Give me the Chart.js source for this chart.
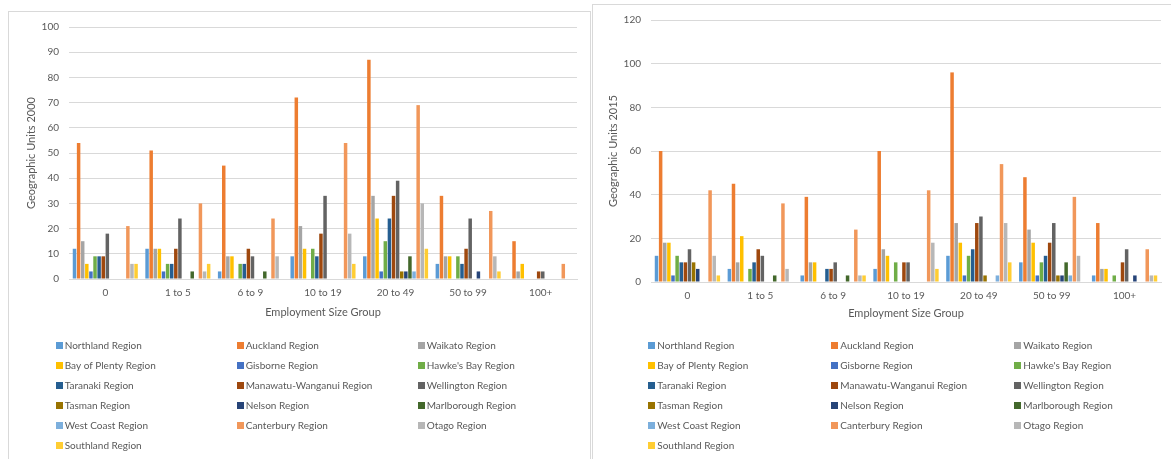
<!DOCTYPE html>
<html>
<head>
<meta charset="utf-8">
<script src="https://cdn.jsdelivr.net/npm/chart.js@4/dist/chart.umd.min.js"></script>
<style>
  html, body { margin: 0; padding: 0; background: #ffffff; }
  body { width: 1171px; height: 459px; position: relative; overflow: hidden; }
  .box { position: absolute; border: 1px solid #d9d9d9; box-sizing: border-box; }
  canvas { position: absolute; }
</style>
</head>
<body>
<div class="box" style="left:8px; top:11px; width:583px; height:460px;"></div>
<div class="box" style="left:592px; top:4px; width:590px; height:470px;"></div>
<canvas id="c2000" width="582" height="448" style="left:8px; top:11px;"></canvas>
<canvas id="c2015" width="579" height="455" style="left:592px; top:4px;"></canvas>
<script>
// Employment size groups (x axis)
const categories = ['0', '1 to 5', '6 to 9', '10 to 19', '20 to 49', '50 to 99', '100+'];

// Regions and their series colours
const regions = [
  'Northland Region', 'Auckland Region', 'Waikato Region',
  'Bay of Plenty Region', 'Gisborne Region', "Hawke's Bay Region",
  'Taranaki Region', 'Manawatu-Wanganui Region', 'Wellington Region',
  'Tasman Region', 'Nelson Region', 'Marlborough Region',
  'West Coast Region', 'Canterbury Region', 'Otago Region',
  'Southland Region'
];
const regionColors = [
  '#5B9BD5', '#ED7D31', '#A5A5A5',
  '#FFC000', '#4472C4', '#70AD47',
  '#255E91', '#9E480E', '#636363',
  '#997300', '#264478', '#43682B',
  '#7CAFDD', '#F1975A', '#B7B7B7',
  '#FFCD33'
];

// Geographic units, 2000 (one array per region, one value per size group)
const northland2000   = [12, 12, 3, 9, 9, 6, 0];
const auckland2000    = [54, 51, 45, 72, 87, 33, 15];
const waikato2000     = [15, 12, 9, 21, 33, 9, 3];
const bayOfPlenty2000 = [6, 12, 9, 12, 24, 9, 6];
const gisborne2000    = [3, 3, 0, 0, 3, 0, 0];
const hawkesBay2000   = [9, 6, 6, 12, 15, 9, 0];
const taranaki2000    = [9, 6, 6, 9, 24, 6, 0];
const manawatu2000    = [9, 12, 12, 18, 33, 12, 3];
const wellington2000  = [18, 24, 9, 33, 39, 24, 3];
const tasman2000      = [0, 0, 0, 0, 3, 0, 0];
const nelson2000      = [0, 0, 0, 0, 3, 3, 0];
const marlborough2000 = [0, 3, 3, 0, 9, 0, 0];
const westCoast2000   = [0, 0, 0, 0, 3, 0, 0];
const canterbury2000  = [21, 30, 24, 54, 69, 27, 6];
const otago2000       = [6, 3, 9, 18, 30, 9, 0];
const southland2000   = [6, 6, 0, 6, 12, 3, 0];

// Geographic units, 2015
const northland2015   = [12, 6, 3, 6, 12, 9, 3];
const auckland2015    = [60, 45, 39, 60, 96, 48, 27];
const waikato2015     = [18, 9, 9, 15, 27, 24, 6];
const bayOfPlenty2015 = [18, 21, 9, 12, 18, 18, 6];
const gisborne2015    = [3, 0, 0, 0, 3, 3, 0];
const hawkesBay2015   = [12, 6, 0, 9, 12, 9, 3];
const taranaki2015    = [9, 9, 6, 0, 15, 12, 0];
const manawatu2015    = [9, 15, 6, 9, 27, 18, 9];
const wellington2015  = [15, 12, 9, 9, 30, 27, 15];
const tasman2015      = [9, 0, 0, 0, 3, 3, 0];
const nelson2015      = [6, 0, 0, 0, 0, 3, 3];
const marlborough2015 = [0, 3, 3, 0, 0, 9, 0];
const westCoast2015   = [0, 0, 0, 0, 3, 3, 0];
const canterbury2015  = [42, 36, 24, 42, 54, 39, 15];
const otago2015       = [12, 6, 3, 18, 27, 12, 3];
const southland2015   = [3, 0, 3, 6, 9, 0, 3];

const series2000 = [northland2000, auckland2000, waikato2000, bayOfPlenty2000,
  gisborne2000, hawkesBay2000, taranaki2000, manawatu2000, wellington2000,
  tasman2000, nelson2000, marlborough2000, westCoast2000, canterbury2000,
  otago2000, southland2000];
const series2015 = [northland2015, auckland2015, waikato2015, bayOfPlenty2015,
  gisborne2015, hawkesBay2015, taranaki2015, manawatu2015, wellington2015,
  tasman2015, nelson2015, marlborough2015, westCoast2015, canterbury2015,
  otago2015, southland2015];

const FONT = 'Lato, "Open Sans", sans-serif';
const TEXT = '#595959';
const GRID = '#d9d9d9';

// Legend laid out as a three-column grid under the plot
const gridLegend = {
  id: 'gridLegend',
  afterDraw(chart, args, opts) {
    const ctx = chart.ctx;
    ctx.save();
    ctx.font = '10px ' + FONT;
    ctx.textBaseline = 'middle';
    ctx.textAlign = 'left';
    chart.data.datasets.forEach((ds, i) => {
      const col = i % 3, row = Math.floor(i / 3);
      const x = opts.x + col * opts.colWidth;
      const y = opts.y + row * opts.rowHeight;
      ctx.fillStyle = ds.backgroundColor;
      ctx.fillRect(Math.round(x), Math.round(y - 3.5), 7, 7);
      ctx.fillStyle = TEXT;
      ctx.fillText(ds.label, x + 9, y + 0.5);
    });
    ctx.restore();
  }
};

function makeChart(id, series, yTitle, yMax, yStep, geo) {
  const datasets = regions.map((name, i) => ({
    label: name,
    data: series[i],
    backgroundColor: regionColors[i],
    borderWidth: 0,
    categoryPercentage: 0.905,
    barPercentage: 0.85
  }));
  return new Chart(document.getElementById(id), {
    type: 'bar',
    data: { labels: categories, datasets },
    plugins: [gridLegend],
    options: {
      responsive: false,
      animation: false,
      devicePixelRatio: 1,
      layout: { padding: { left: 0, right: geo.padRight, top: geo.padTop, bottom: geo.padBottom } },
      plugins: {
        legend: { display: false },
        tooltip: { enabled: false },
        gridLegend: { x: geo.legendX, y: geo.legendY, colWidth: geo.colWidth, rowHeight: 20 }
      },
      scales: {
        x: {
          grid: { display: false, drawTicks: false },
          border: { display: true, color: GRID, width: 1 },
          ticks: { color: TEXT, font: { family: FONT, size: 10 }, padding: geo.xTickPad, maxRotation: 0 },
          title: { display: true, text: 'Employment Size Group', color: TEXT,
                   font: { family: FONT, size: 11 }, padding: { top: 0, bottom: geo.xTitlePad } },
          afterFit(scale) { scale.height = 45; }
        },
        y: {
          min: 0, max: yMax,
          grid: { color: GRID, lineWidth: 1, drawTicks: false },
          border: { display: false },
          ticks: { stepSize: yStep, color: TEXT, font: { family: FONT, size: 10 }, padding: 10 },
          title: { display: true, text: yTitle, color: TEXT,
                   font: { family: FONT, size: 11 }, padding: { top: geo.yTitlePad, bottom: 0 } },
          afterFit(scale) { scale.width = geo.yWidth; }
        }
      }
    }
  });
}

makeChart('c2000', series2000, 'Geographic Units 2000', 100, 10, {
  yWidth: 61, padRight: 13, padTop: 13.7, padBottom: 135,
  xTickPad: 8, xTitlePad: 5, yTitlePad: 17,
  legendX: 47.7, legendY: 334.5, colWidth: 181
});

makeChart('c2015', series2015, 'Geographic Units 2015', 120, 20, {
  yWidth: 59, padRight: 10, padTop: 14.3, padBottom: 132,
  xTickPad: 8, xTitlePad: 7, yTitlePad: 15,
  legendX: 56.3, legendY: 341.7, colWidth: 183
});
</script>
</body>
</html>
